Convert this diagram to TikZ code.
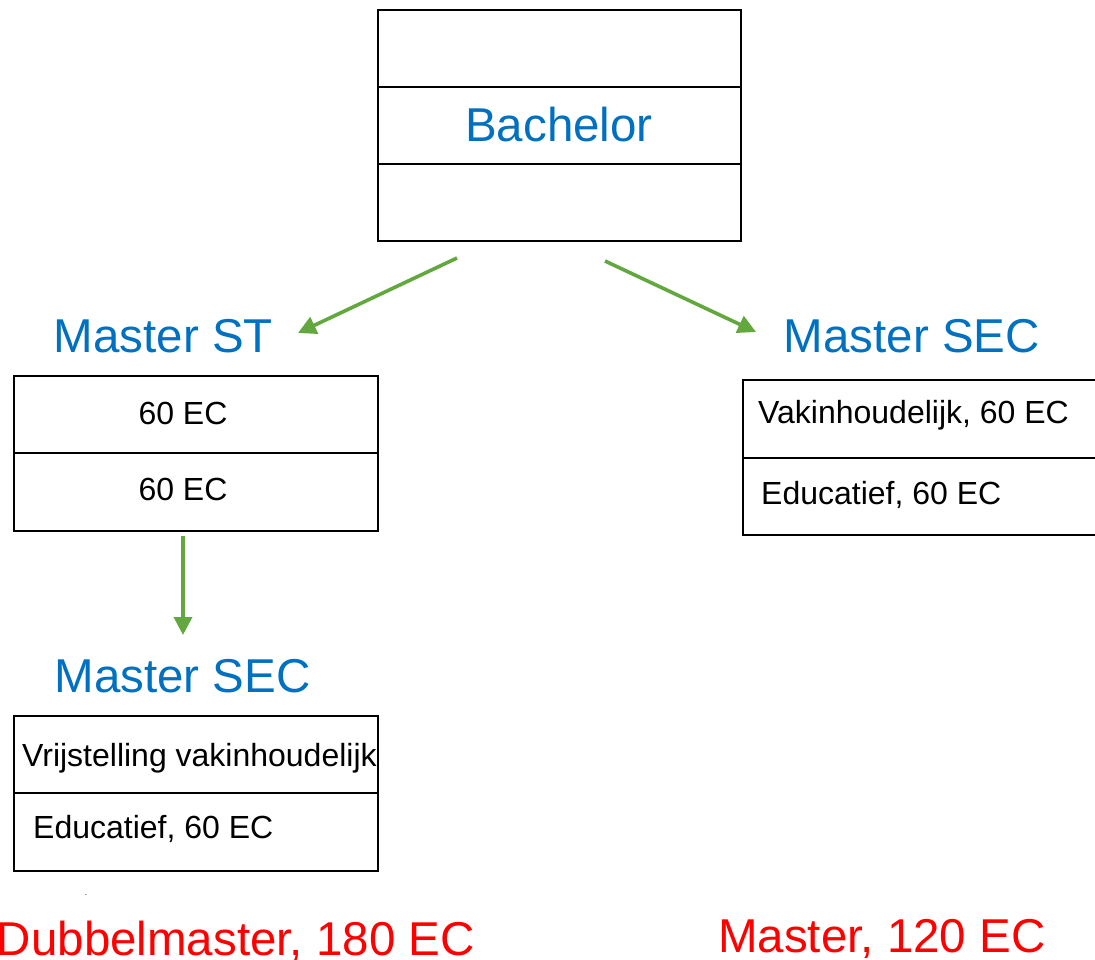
\documentclass[tikz,border=0pt]{standalone}
\usepackage{fontspec}
\setmainfont{Liberation Sans}
\usetikzlibrary{arrows.meta}
\definecolor{tblue}{RGB}{0,112,192}
\definecolor{tgreen}{RGB}{98,168,62}
\definecolor{tred}{RGB}{255,0,0}
\begin{document}
\begin{tikzpicture}[x=1pt,y=-1pt,
  cell/.style={draw=black,line width=1.8pt,rectangle,inner sep=0pt,outer sep=0pt,anchor=north west},
  big/.style={font=\fontsize{47.5}{57}\selectfont,inner sep=0pt},
  small/.style={font=\fontsize{32}{38}\selectfont,inner sep=0pt,text=black},
  head/.style={big,text=tblue,anchor=base},
  total/.style={big,text=tred},
  flow/.style={draw=tgreen,line width=3.6pt,-{Triangle[length=18pt,width=18pt]}}]
\useasboundingbox (0,0) rectangle (1095,960);
% Bachelor box
\node[cell,minimum width=363pt,minimum height=77pt] (b1) at (378,10) {};
\node[cell,minimum width=363pt,minimum height=77pt] (b2) at (378,87) {};
\node[cell,minimum width=363pt,minimum height=77pt] (b3) at (378,164) {};
\node[head] (bach) at (559,142) {Bachelor};
% Master ST
\node[head] (mst) at (163.5,352) {Master ST};
\node[cell,minimum width=364pt,minimum height=77pt] (s1) at (14,376) {};
\node[cell,minimum width=364pt,minimum height=78pt] (s2) at (14,453) {};
\node[small,anchor=base] (s1t) at (183,424) {60 EC};
\node[small,anchor=base] (s2t) at (183,500) {60 EC};
% Master SEC right
\node[head] (msec) at (912,352) {Master SEC};
\node[cell,minimum width=360pt,minimum height=78pt] (r1) at (743,380) {};
\node[cell,minimum width=360pt,minimum height=77pt] (r2) at (743,458) {};
\node[small,anchor=base west] (r1t) at (758,423) {Vakinhoudelijk, 60 EC};
\node[small,anchor=base west] (r2t) at (761,504) {Educatief, 60 EC};
% Master SEC lower
\node[head] (msec2) at (182.5,692) {Master SEC};
\node[cell,minimum width=364pt,minimum height=77pt] (l1) at (14,716) {};
\node[cell,minimum width=364pt,minimum height=78pt] (l2) at (14,793) {};
\node[small,anchor=base west] (l1t) at (22,766) {Vrijstelling vakinhoudelijk};
\node[small,anchor=base west] (l2t) at (33,838) {Educatief, 60 EC};
\node[font=\fontsize{8}{9}\selectfont,inner sep=0pt,anchor=base] (dot) at (86,895) {.};
% totals
\node[total,anchor=base east] (tot1) at (475,955) {Dubbelmaster, 180 EC};
\node[total,anchor=base west] (tot2) at (718,952) {Master, 120 EC};
% arrows
\coordinate (a1s) at (457,258);
\coordinate (a1e) at (298,333);
\coordinate (a2s) at (605,261);
\coordinate (a2e) at (756,332);
\coordinate (a3s) at (183,536);
\coordinate (a3e) at (183,635);
\draw[flow] (a1s) -- (a1e);
\draw[flow] (a2s) -- (a2e);
\draw[flow] (a3s) -- (a3e);
\end{tikzpicture}
\end{document}
